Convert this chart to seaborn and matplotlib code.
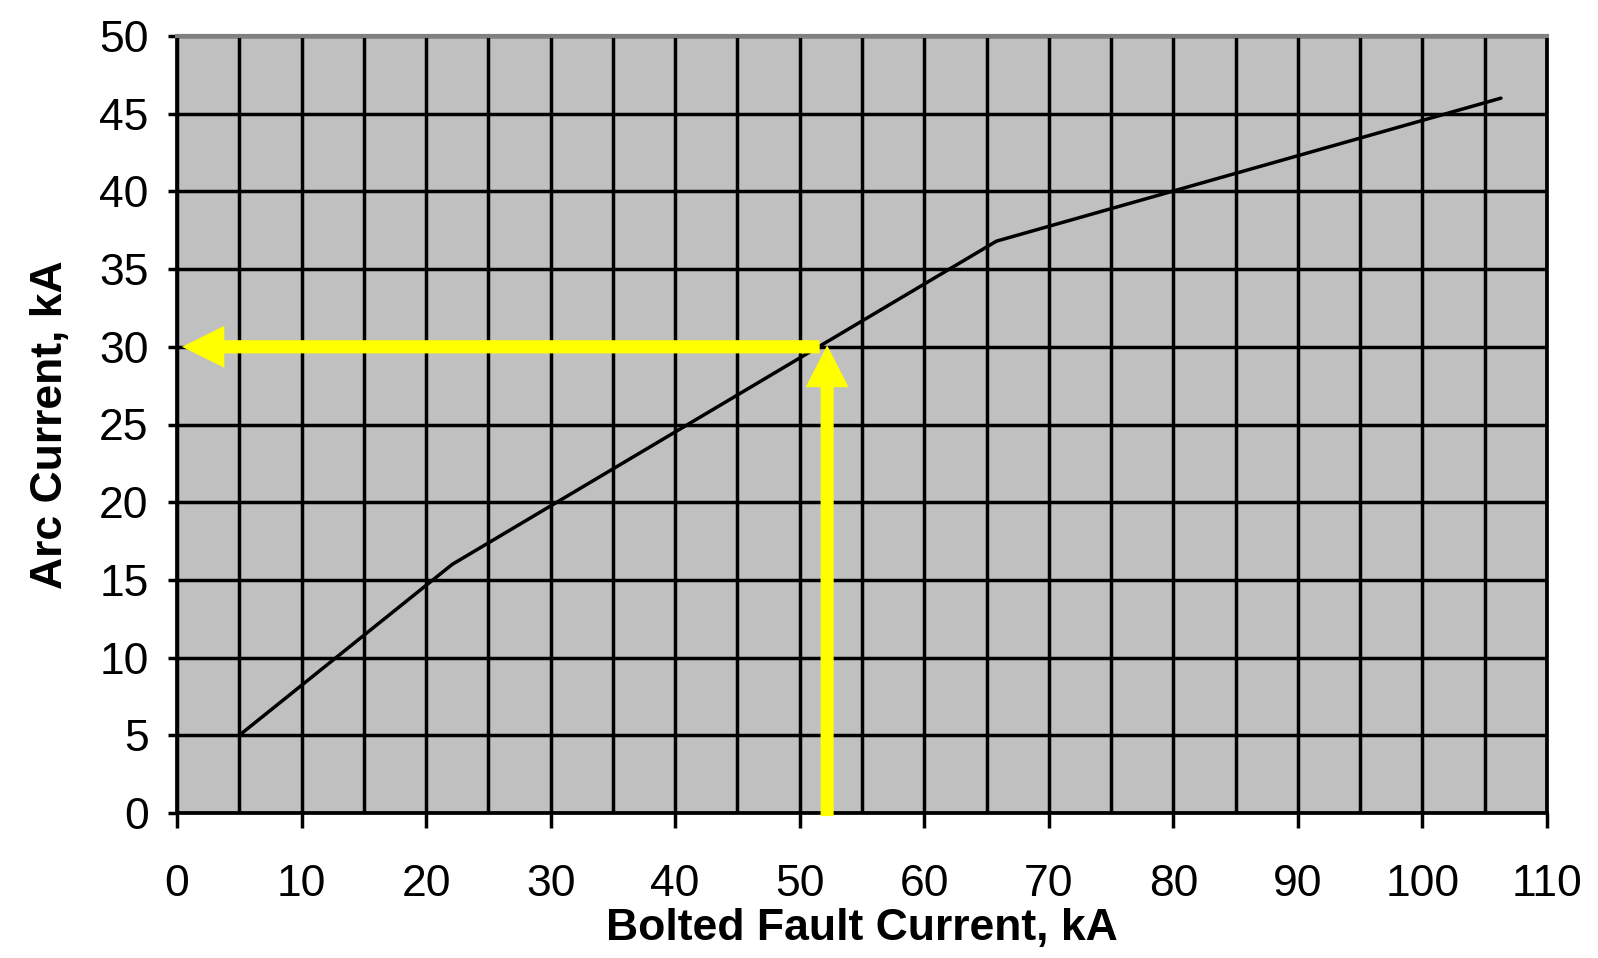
import numpy as np
import pandas as pd
import matplotlib
matplotlib.use("Agg")
import matplotlib.pyplot as plt
import seaborn as sns

# curve (breakpoints)
bolted_ka = [5.0, 22.1, 65.8, 106.3]
arc_ka = [5.0, 16.0, 36.8, 46.0]

# worked example shown by the yellow arrows
example_bolted = 52.2
example_arc = 30.0

x_ticks = list(range(0, 111, 10))
x_grid = list(range(0, 111, 5))
y_ticks = list(range(0, 51, 5))

sns.set_theme(style="ticks")
plt.rcParams['font.family'] = ['Liberation Sans', 'DejaVu Sans']

fig = plt.figure(figsize=(15.98, 9.58), dpi=100)
ax = fig.add_axes([177/1598, (958-813)/958, (1547-177)/1598, (813-36)/958])
ax.set_facecolor("#c0c0c0")

ax.set_xlim(0, 110)
ax.set_ylim(0, 50)
ax.set_xticks(x_ticks)
ax.set_xticks(x_grid, minor=True)
ax.set_yticks(y_ticks)

ax.grid(True, which="both", axis="x", color="black", lw=2.5)
ax.grid(True, which="major", axis="y", color="black", lw=2.5)
ax.set_axisbelow(True)

df = pd.DataFrame({"bolted": bolted_ka, "arc": arc_ka})
sns.lineplot(data=df, x="bolted", y="arc", ax=ax, color="black", lw=2.5)

# yellow arrows (sizes in data units, each arrow is axis aligned)
ax.arrow(example_bolted - 0.6, example_arc, -(example_bolted - 0.6) + 0.4, 0,
         width=0.85, head_width=2.7, head_length=3.4, length_includes_head=True,
         color="#ffff00", lw=0, zorder=5)
ax.arrow(example_bolted, -0.2, 0, example_arc + 0.3, width=1.05,
         head_width=3.45, head_length=2.7, length_includes_head=True,
         color="#ffff00", lw=0, zorder=5, clip_on=False)

ax.tick_params(axis="x", which="major", length=11, width=2.5, pad=26,
               labelsize=32, color="black", labelcolor="black")
ax.tick_params(axis="x", which="minor", length=0)
ax.tick_params(axis="y", length=6.5, width=2.5, pad=14, labelsize=32,
               color="black", labelcolor="black")

for side in ["left", "bottom"]:
    ax.spines[side].set_color("black")
    ax.spines[side].set_linewidth(2.7)
ax.spines["top"].set_color("#808080")
ax.spines["top"].set_linewidth(3)
ax.spines["right"].set_color("black")
ax.spines["right"].set_linewidth(2.7)

ax.set_xlabel("Bolted Fault Current, kA", fontsize=32, fontweight="bold",
              labelpad=2, color="black")
ax.set_ylabel("Arc Current, kA", fontsize=32, fontweight="bold",
              labelpad=20, color="black")

fig.savefig("out.png", dpi=100, facecolor="white")
